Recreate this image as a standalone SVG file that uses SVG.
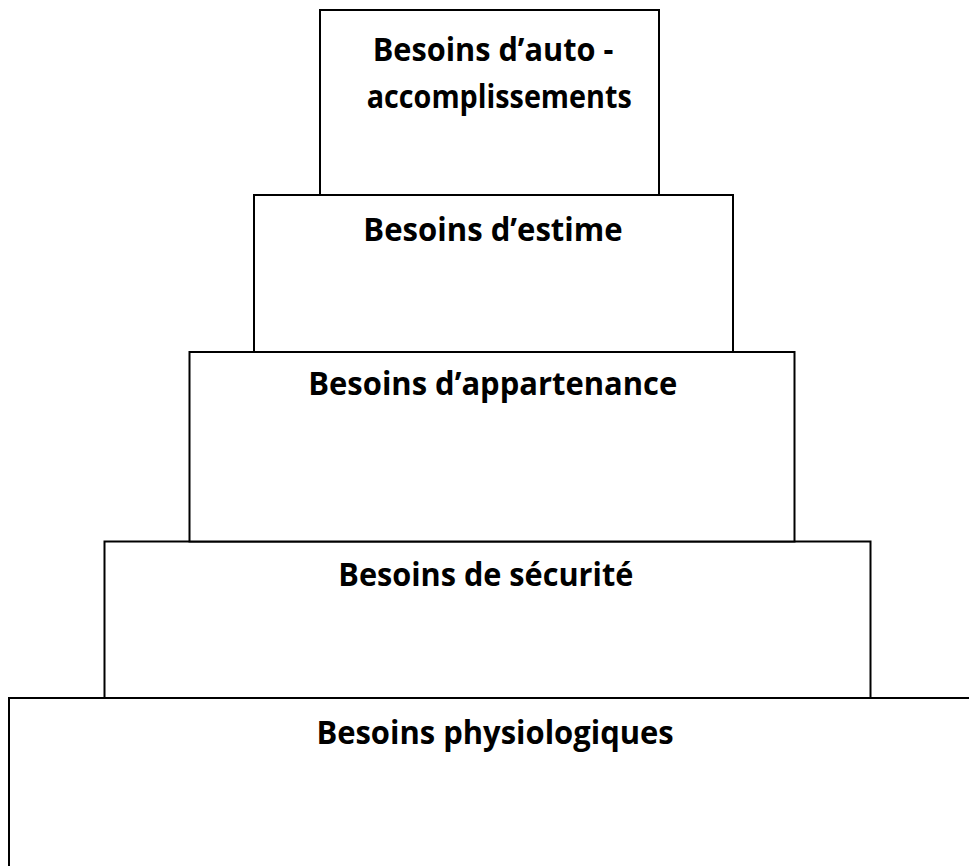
<svg xmlns="http://www.w3.org/2000/svg" width="969" height="866" viewBox="0 0 969 866">
<style>
.box{fill:#fff;stroke:#000;stroke-width:2}
.lbl{font-family:"Open Sans","Liberation Sans",sans-serif;font-weight:700;font-size:32px;fill:#000}
</style>
<rect x="0" y="0" width="969" height="866" fill="#fff"/>
<g id="physiologiques">
<rect class="box" x="9" y="698" width="990" height="200"/>
<text class="lbl" x="316.4" y="744" textLength="357.3" lengthAdjust="spacingAndGlyphs">Besoins physiologiques</text>
</g>
<g id="securite">
<rect class="box" x="104.5" y="541.5" width="766" height="156.5"/>
<text class="lbl" x="338.3" y="585.5" textLength="295" lengthAdjust="spacingAndGlyphs">Besoins de sécurité</text>
</g>
<g id="appartenance">
<rect class="box" x="189.5" y="352" width="605" height="189.5"/>
<text class="lbl" x="308.3" y="395" textLength="369" lengthAdjust="spacingAndGlyphs">Besoins d’appartenance</text>
</g>
<g id="estime">
<rect class="box" x="254" y="195" width="479" height="157"/>
<text class="lbl" x="363.3" y="241" textLength="259.4" lengthAdjust="spacingAndGlyphs">Besoins d’estime</text>
</g>
<g id="auto-accomplissement">
<rect class="box" x="320" y="10" width="339" height="185"/>
<text class="lbl" x="372.7" y="60.5" textLength="240.6" lengthAdjust="spacingAndGlyphs">Besoins d’auto -</text>
<text class="lbl" x="366.7" y="107.5" textLength="265" lengthAdjust="spacingAndGlyphs">accomplissements</text>
</g>
<g id="connectors"></g>
</svg>
